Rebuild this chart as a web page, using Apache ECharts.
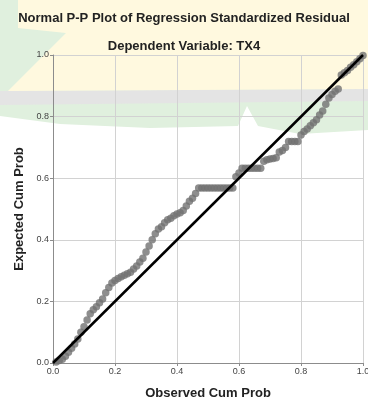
<!DOCTYPE html>
<html>
<head>
<meta charset="utf-8">
<script src="https://cdn.jsdelivr.net/npm/echarts@6/dist/echarts.min.js"></script>
<style>
  html, body { margin: 0; padding: 0; background: #fff; }
  #pp-plot { width: 368px; height: 404px; }
</style>
</head>
<body>
<div id="pp-plot"></div>
<script>
"use strict";

// Observed Cum Prob (eje X)
const observedCum = [
  0.01, 0.02, 0.03, 0.04, 0.05, 0.06, 0.07, 0.08, 0.09, 0.10,
  0.11, 0.12, 0.13, 0.14, 0.15, 0.16, 0.17, 0.18, 0.19, 0.20,
  0.21, 0.22, 0.23, 0.24, 0.25, 0.26, 0.27, 0.28, 0.29, 0.30,
  0.31, 0.32, 0.33, 0.34, 0.35, 0.36, 0.37, 0.38, 0.39, 0.40,
  0.41, 0.42, 0.43, 0.44, 0.45, 0.46, 0.47, 0.48, 0.49, 0.50,
  0.51, 0.52, 0.53, 0.54, 0.55, 0.56, 0.57, 0.58, 0.59, 0.60,
  0.61, 0.62, 0.63, 0.64, 0.65, 0.66, 0.67, 0.68, 0.69, 0.70,
  0.71, 0.72, 0.73, 0.74, 0.75, 0.76, 0.77, 0.78, 0.79, 0.80,
  0.81, 0.82, 0.83, 0.84, 0.85, 0.86, 0.87, 0.88, 0.89, 0.90,
  0.91, 0.92, 0.93, 0.94, 0.95, 0.96, 0.97, 0.98, 0.99, 1.00
];

// Expected Cum Prob (eje Y)
const expectedCum = [
  0.003, 0.008, 0.012, 0.022, 0.035, 0.048, 0.062, 0.078, 0.100, 0.118,
  0.140, 0.160, 0.173, 0.183, 0.196, 0.208, 0.228, 0.245, 0.260, 0.268,
  0.274, 0.280, 0.285, 0.290, 0.295, 0.305, 0.315, 0.328, 0.340, 0.360,
  0.380, 0.400, 0.420, 0.435, 0.442, 0.455, 0.465, 0.470, 0.478, 0.484,
  0.488, 0.495, 0.510, 0.525, 0.535, 0.550, 0.568, 0.568, 0.568, 0.568,
  0.568, 0.568, 0.568, 0.568, 0.568, 0.568, 0.568, 0.568, 0.605, 0.617,
  0.632, 0.632, 0.632, 0.632, 0.632, 0.632, 0.632, 0.655, 0.660, 0.662,
  0.664, 0.666, 0.685, 0.690, 0.700, 0.719, 0.719, 0.719, 0.719, 0.740,
  0.752, 0.760, 0.770, 0.780, 0.790, 0.805, 0.818, 0.840, 0.860, 0.872,
  0.882, 0.890, 0.935, 0.942, 0.950, 0.960, 0.968, 0.978, 0.988, 0.998
];

// Linea de referencia (diagonal)
const refLineX = [0, 1];
const refLineY = [0, 1];

// Etiquetas de los ejes
const tickLabels = ['0.0', '0.2', '0.4', '0.6', '0.8', '1.0'];

const points = observedCum.map((x, i) => [x, expectedCum[i]]);
const refLine = refLineX.map((x, i) => [x, refLineY[i]]);

const FONT = '"Liberation Sans", Arial, sans-serif';

var myChart = echarts.init(document.getElementById('pp-plot'));

var axisCommon = {
    type: 'value',
    min: 0,
    max: 1,
    interval: 0.2,
    nameLocation: 'middle',
    nameTextStyle: { fontFamily: FONT, fontSize: 13, fontWeight: 'bold', color: '#222' },
    axisLine: { show: true, lineStyle: { color: '#8c8c8c', width: 1 } },
    axisTick: { show: true, length: 3, lineStyle: { color: '#8c8c8c' } },
    axisLabel: {
        fontFamily: FONT, fontSize: 9, color: '#444', margin: 4,
        formatter: (v) => tickLabels[Math.round(v * 5)]
    },
    splitLine: { show: true, lineStyle: { color: '#d2d2d2', width: 1 } }
};

var option = {
    animation: false,
    // marca de agua de fondo (aproximada)
    graphic: [
        { type: 'polygon', z: -10, silent: true,
          shape: { points: [[0, 0], [368, 0], [368, 130], [300, 134], [258, 126], [247, 106], [238, 126], [150, 128], [60, 124], [0, 116]] },
          style: { fill: '#e0f0de' } },
        { type: 'polygon', z: -9, silent: true,
          shape: { points: [[0, 91], [368, 89], [368, 101], [0, 105]] },
          style: { fill: '#e4e4e4' } },
        { type: 'polygon', z: -8, silent: true,
          shape: { points: [[18, 0], [368, 0], [368, 89], [8, 91], [66, 33], [18, 28]] },
          style: { fill: '#fff9df' } }
    ],
    title: [
        {
            text: 'Normal P-P Plot of Regression Standardized Residual',
            left: 'center', top: 7,
            textStyle: { fontFamily: FONT, fontSize: 13, fontWeight: 'bold', color: '#222' }
        },
        {
            text: 'Dependent Variable: TX4',
            left: 'center', top: 35,
            textStyle: { fontFamily: FONT, fontSize: 13, fontWeight: 'bold', color: '#222' }
        }
    ],
    grid: { left: 53, right: 5, top: 55, bottom: 41, outerBoundsMode: 'none' },
    xAxis: Object.assign({}, axisCommon, { name: 'Observed Cum Prob', nameGap: 24 }),
    yAxis: Object.assign({}, axisCommon, { name: 'Expected Cum Prob', nameGap: 26 }),
    series: [
        {
            type: 'scatter',
            data: points,
            symbol: 'circle',
            symbolSize: 7.5,
            itemStyle: { color: '#727272' },
            z: 2
        },
        {
            type: 'line',
            data: refLine,
            symbol: 'none',
            lineStyle: { color: '#000', width: 2.5 },
            z: 3
        }
    ]
};

myChart.setOption(option);
</script>
</body>
</html>
